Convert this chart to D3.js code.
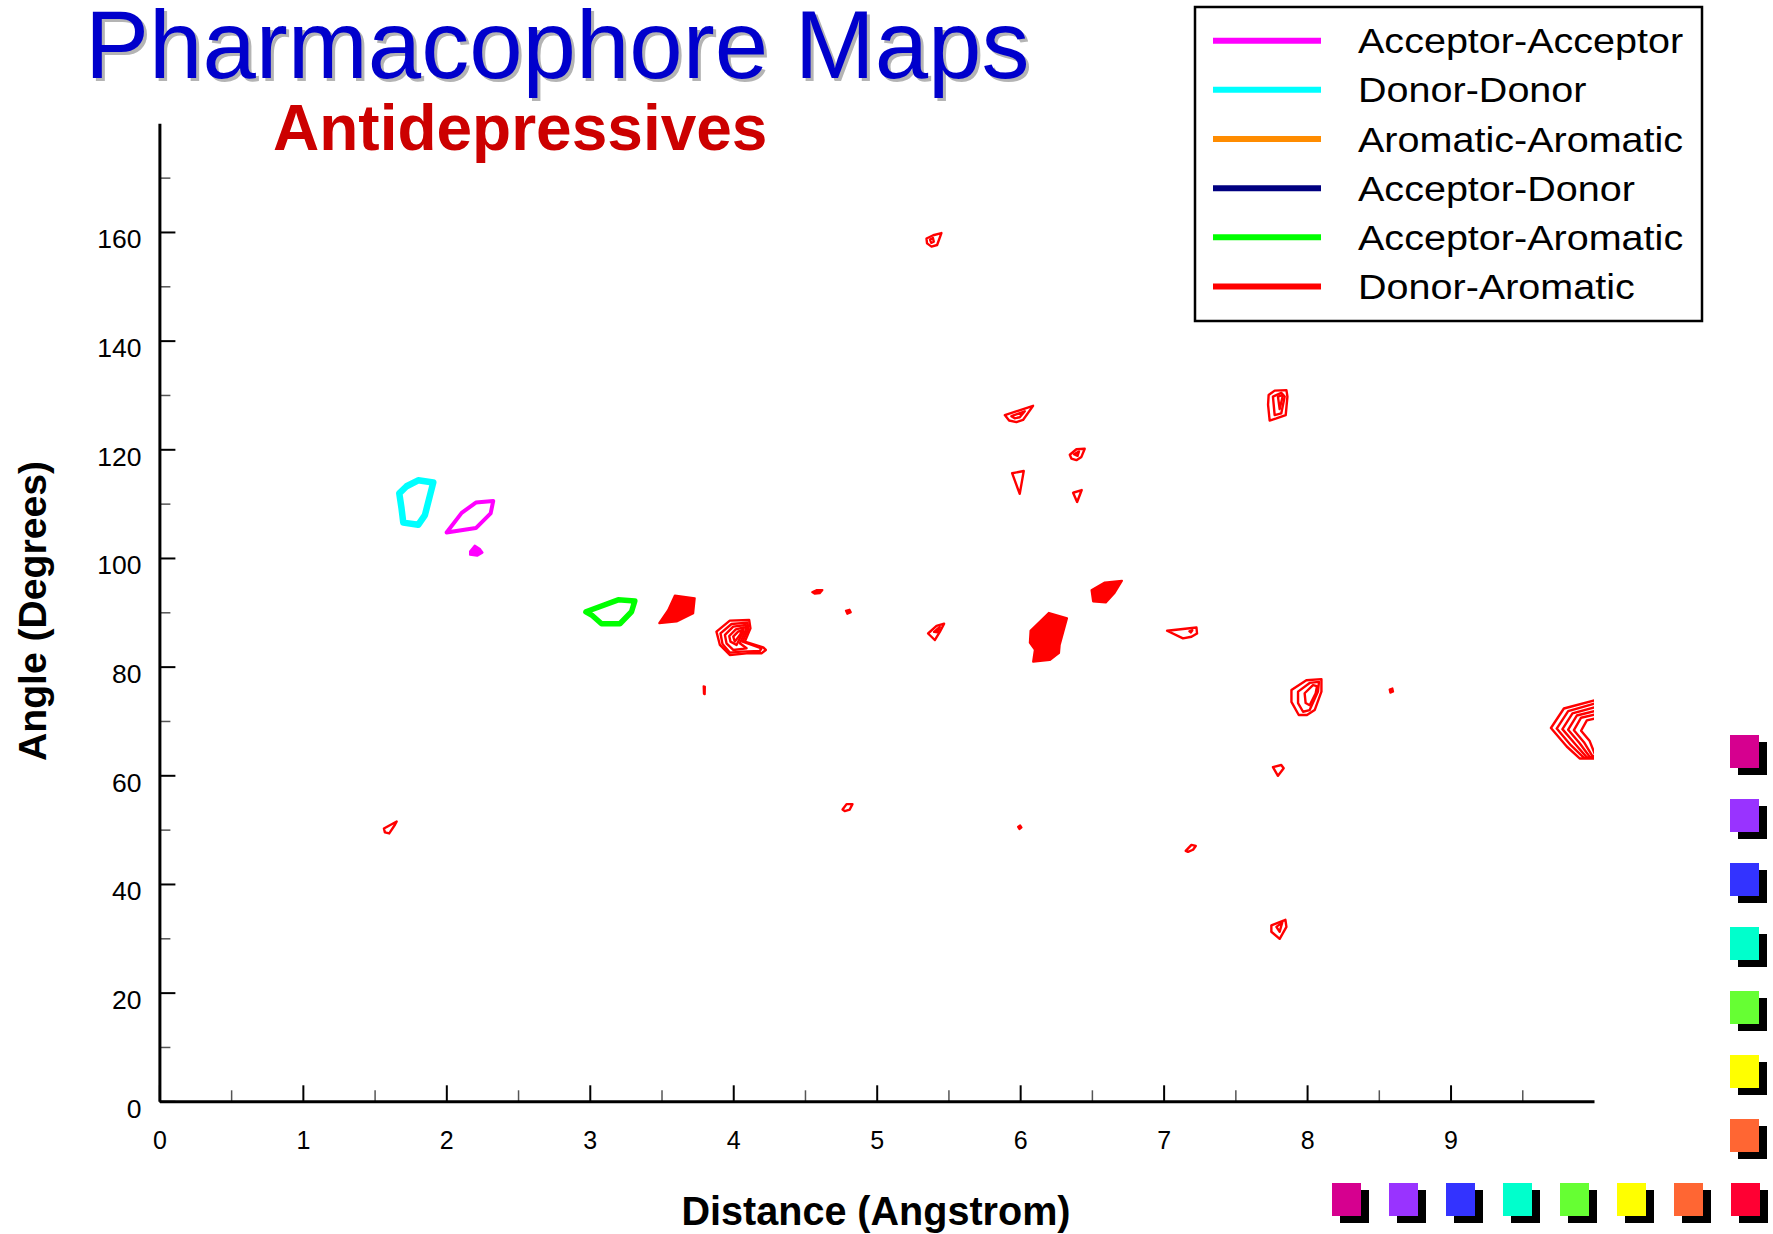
<!DOCTYPE html>
<html>
<head>
<meta charset="utf-8">
<script src="https://cdn.jsdelivr.net/npm/d3@7"></script>
<style>
  html, body { margin: 0; padding: 0; background: #fff; }
  svg { display: block; font-family: "Liberation Sans", Arial, sans-serif; }
</style>
</head>
<body>
<svg id="chart" width="1773" height="1234"></svg>
<script>
// ---- Pair types shown in the legend ----
const pairTypes = ["Acceptor-Acceptor", "Donor-Donor", "Aromatic-Aromatic",
                   "Acceptor-Donor", "Acceptor-Aromatic", "Donor-Aromatic"];

// ---- Axis ticks ----
const distanceTicks = [0, 1, 2, 3, 4, 5, 6, 7, 8, 9];
const distanceMinorTicks = [0.5, 1.5, 2.5, 3.5, 4.5, 5.5, 6.5, 7.5, 8.5, 9.5];
const angleTicks = [0, 20, 40, 60, 80, 100, 120, 140, 160];
const angleMinorTicks = [10, 30, 50, 70, 90, 110, 130, 150, 170];

// ---- Contour rings, [distance (Å), angle (deg)] ----
const acceptorAcceptorRings = [
  [[2.327, 110.5], [2.309, 108.2], [2.206, 105.5], [2.002, 104.7], [2.107, 108.3], [2.206, 110.2]]
];
const acceptorAcceptorCores = [
  [[2.165, 101.2], [2.199, 102.3], [2.234, 101.7], [2.253, 101.0], [2.215, 100.4], [2.165, 100.6]]
];
const donorDonorRings = [
  [[1.804, 114.3], [1.909, 113.9], [1.851, 107.9], [1.804, 106.1], [1.700, 106.5], [1.688, 109.1], [1.672, 111.9], [1.723, 113.2]]
];
const aromaticAromaticRings = [];
const acceptorDonorRings = [];
const acceptorAromaticRings = [
  [[2.973, 90.1], [3.198, 92.3], [3.314, 92.1], [3.291, 90.1], [3.210, 87.9], [3.082, 87.9], [3.013, 89.5]]
];
const donorAromaticRings = [
  // 5.4 Å / 158°
  [[5.347, 158.8], [5.394, 159.4], [5.451, 159.8], [5.421, 157.6], [5.382, 157.3], [5.351, 157.9]],
  [[5.372, 158.6], [5.392, 158.9], [5.398, 158.2], [5.380, 158.0]],
  // 6.0 Å / 126°
  [[5.893, 126.3], [6.090, 128.0], [6.020, 125.4], [5.974, 125.0], [5.923, 125.3]],
  [[5.939, 126.1], [6.032, 127.0], [5.997, 125.9], [5.962, 125.7]],
  // 7.8 Å / 128°
  [[7.732, 130.0], [7.774, 130.8], [7.856, 130.9], [7.863, 129.7], [7.851, 126.3], [7.786, 125.7], [7.739, 125.3], [7.728, 128.2]],
  [[7.762, 129.7], [7.820, 130.4], [7.844, 129.7], [7.820, 126.6], [7.774, 126.3]],
  [[7.797, 129.7], [7.832, 130.0], [7.809, 127.4]],
  // 6.4 Å / 119°
  [[6.346, 119.0], [6.392, 120.0], [6.450, 120.1], [6.427, 118.6], [6.392, 118.0], [6.357, 118.3]],
  [[6.375, 119.1], [6.410, 119.6], [6.400, 118.8]],
  // 6.0 Å / 114°
  [[5.944, 115.6], [6.025, 116.0], [5.997, 111.8]],
  // 6.4 Å / 111°
  [[6.369, 112.0], [6.429, 112.5], [6.397, 110.3]],
  // 4.05 Å / 85°
  [[3.883, 86.44], [3.976, 88.46], [4.111, 88.59], [4.120, 87.05], [4.081, 84.60], [4.209, 83.56], [4.227, 83.07], [4.197, 82.45], [4.093, 82.45], [3.976, 82.15], [3.907, 83.99]],
  [[3.911, 86.13], [3.988, 87.85], [4.100, 88.10], [4.104, 86.87], [4.065, 84.60], [4.197, 83.37], [4.185, 82.88], [4.058, 82.76], [3.976, 82.58], [3.925, 84.17]],
  [[3.942, 85.83], [4.000, 87.36], [4.088, 87.67], [4.088, 86.75], [4.046, 84.29], [4.093, 83.37], [4.000, 83.07], [3.953, 84.29]],
  [[3.972, 85.64], [4.018, 86.87], [4.074, 87.24], [4.069, 86.44], [4.023, 83.99], [3.981, 84.60]],
  [[4.000, 85.52], [4.034, 86.44], [4.065, 86.75], [4.046, 85.83], [4.011, 84.60]],
  // 5.4 Å / 87°
  [[5.358, 86.1], [5.417, 87.5], [5.470, 87.9], [5.440, 86.4], [5.405, 84.9]],
  [[5.400, 86.4], [5.440, 87.3], [5.425, 86.3]],
  // 7.1 Å / 86°
  [[7.024, 86.6], [7.229, 87.2], [7.233, 86.1], [7.194, 85.5], [7.135, 85.2]],
  [[7.180, 86.5], [7.200, 86.7], [7.190, 86.3]],
  // 8.0 Å / 75°
  [[7.891, 75.7], [7.995, 77.5], [8.100, 77.7], [8.100, 75.4], [8.053, 72.0], [7.999, 71.1], [7.942, 71.1], [7.891, 73.5]],
  [[7.937, 75.4], [8.018, 77.0], [8.083, 77.2], [8.076, 75.4], [8.018, 72.0], [7.972, 71.7], [7.937, 73.3]],
  [[7.983, 75.1], [8.041, 76.6], [8.069, 76.4], [8.060, 75.1], [8.018, 72.9], [7.990, 73.3]],
  // 9.9 Å / 68° (runs past the 10 Å edge)
  [[9.70, 68.7], [9.79, 72.3], [10.06, 74.2], [10.06, 63.1], [9.90, 63.1], [9.81, 65.3]],
  [[9.74, 68.6], [9.82, 71.8], [10.06, 73.6], [10.06, 63.2], [9.93, 63.2], [9.84, 65.5]],
  [[9.78, 68.5], [9.85, 71.4], [10.06, 72.9], [10.06, 63.3], [9.95, 63.3], [9.87, 65.7]],
  [[9.82, 68.4], [9.88, 71.0], [10.06, 72.2], [10.06, 63.4], [9.97, 63.4], [9.90, 65.9]],
  [[9.86, 68.3], [9.91, 70.6], [10.06, 71.5], [10.06, 63.5], [9.99, 63.5], [9.93, 66.1]],
  [[9.91, 68.2], [9.95, 70.1], [10.06, 70.8], [10.06, 63.6], [10.01, 63.6], [9.97, 66.3]],
  // 7.8 Å / 61°
  [[7.762, 61.5], [7.820, 61.9], [7.837, 61.3], [7.797, 59.9]],
  // 1.6 Å / 50°
  [[1.565, 50.2], [1.654, 51.5], [1.642, 50.9], [1.602, 49.3], [1.572, 49.5]],
  // 4.8 Å / 54°
  [[4.762, 53.7], [4.790, 54.7], [4.831, 54.7], [4.812, 53.7], [4.777, 53.4]],
  // 7.2 Å / 46.6°
  [[7.154, 46.1], [7.194, 47.2], [7.224, 47.0], [7.205, 46.3], [7.170, 45.9]],
  // 7.8 Å / 32°
  [[7.751, 32.4], [7.849, 33.4], [7.856, 32.1], [7.809, 29.9], [7.751, 31.2]],
  [[7.786, 32.1], [7.827, 32.9], [7.809, 31.2]]
];
// dense cores where the contour levels merge
const donorAromaticCores = [
  [[3.593, 93.1], [3.732, 92.6], [3.721, 89.8], [3.605, 88.3], [3.484, 88.0], [3.546, 90.4]],
  [[6.072, 86.6], [6.201, 89.9], [6.327, 88.9], [6.276, 84.0], [6.271, 82.5], [6.206, 81.2], [6.090, 80.9], [6.102, 83.1], [6.067, 84.4]],
  [[6.497, 94.1], [6.590, 95.5], [6.710, 95.8], [6.659, 93.6], [6.597, 91.8], [6.508, 92.0]],
  [[4.550, 93.7], [4.580, 94.1], [4.622, 94.1], [4.603, 93.5], [4.569, 93.4]],
  [[4.785, 90.3], [4.810, 90.5], [4.820, 90.0], [4.795, 89.7]],
  [[3.793, 76.4], [3.803, 76.3], [3.802, 74.9], [3.795, 75.0]],
  [[8.575, 75.8], [8.595, 76.0], [8.600, 75.4], [8.580, 75.2]],
  [[5.985, 50.5], [6.000, 50.8], [6.010, 50.4], [5.995, 50.1]]
];

// ---- Colour key swatches ----
const sideSwatches = ["#d6008f", "#9933ff", "#3333ff", "#00ffcc", "#66ff33", "#ffff00", "#ff6633"];
const bottomSwatches = ["#d6008f", "#9933ff", "#3333ff", "#00ffcc", "#66ff33", "#ffff00", "#ff6633", "#ff0033"];

// ---- Build series ----
const palette = ["#ff00ff", "#00ffff", "#ff8c00", "#000080", "#00ff00", "#ff0000"];
const lineWidths = [4, 6.5, 4, 4, 5.5, 2.4];
const seriesRings = [acceptorAcceptorRings, donorDonorRings, aromaticAromaticRings,
                     acceptorDonorRings, acceptorAromaticRings, donorAromaticRings];
const seriesCores = [acceptorAcceptorCores, [], [], [], [], donorAromaticCores];
const series = pairTypes.map((name, i) => ({
  name, color: palette[i], width: lineWidths[i], rings: seriesRings[i], cores: seriesCores[i]
}));

// ---- Layout ----
const svg = d3.select("#chart");
const plot = { left: 159.4, right: 1594, top: 123.3, bottom: 1101.3 };
const x = d3.scaleLinear().domain([0, 10]).range([plot.left, plot.right]);
const y = d3.scaleLinear().domain([0, 180]).range([plot.bottom, plot.top]);

// Titles
const titleFont = "'Liberation Sans', Arial, sans-serif";
svg.append("text").attr("x", 88).attr("y", 81)
  .attr("font-size", 96).attr("fill", "#b4b4b4").text("Pharmacophore Maps");
svg.append("text").attr("x", 85).attr("y", 78)
  .attr("font-size", 96).attr("fill", "#0000cc").text("Pharmacophore Maps");
svg.append("text").attr("x", 273).attr("y", 150)
  .attr("font-size", 64).attr("font-weight", "bold").attr("fill", "#cc0000").text("Antidepressives");

// Clip for contours
svg.append("defs").append("clipPath").attr("id", "plotClip")
  .append("rect").attr("x", plot.left).attr("y", plot.top)
  .attr("width", plot.right - plot.left).attr("height", plot.bottom - plot.top);

const ringPath = d3.line().x(p => x(p[0])).y(p => y(p[1])).curve(d3.curveLinearClosed);
const contourLayer = svg.append("g").attr("clip-path", "url(#plotClip)");
series.forEach(s => {
  const g = contourLayer.append("g");
  g.selectAll("path.core").data(s.cores).join("path").attr("class", "core")
    .attr("d", ringPath).attr("fill", s.color).attr("stroke", s.color)
    .attr("stroke-width", 2).attr("stroke-linejoin", "round");
  g.selectAll("path.ring").data(s.rings).join("path").attr("class", "ring")
    .attr("d", ringPath).attr("fill", "none").attr("stroke", s.color)
    .attr("stroke-width", s.width).attr("stroke-linejoin", "round");
});

// Axes
function styleAxis(g, major) {
  g.select(".domain").attr("stroke", "#000").attr("stroke-width", 3);
  g.selectAll(".tick line").attr("stroke", major ? "#000" : "#555").attr("stroke-width", major ? 2 : 1.5);
  g.selectAll(".tick text").attr("font-size", 25).attr("fill", "#000")
    .attr("font-family", titleFont);
}
const xMinor = svg.append("g").attr("transform", `translate(0,${plot.bottom})`)
  .call(d3.axisBottom(x).tickValues(distanceMinorTicks).tickSize(-11).tickSizeOuter(0).tickFormat(""));
xMinor.select(".domain").remove();
styleAxis(xMinor, false);
const yMinor = svg.append("g").attr("transform", `translate(${plot.left},0)`)
  .call(d3.axisLeft(y).tickValues(angleMinorTicks).tickSize(-11).tickSizeOuter(0).tickFormat(""));
yMinor.select(".domain").remove();
styleAxis(yMinor, false);

const xAxis = svg.append("g").attr("transform", `translate(0,${plot.bottom})`)
  .call(d3.axisBottom(x).tickValues(distanceTicks).tickSize(-16).tickSizeOuter(0).tickPadding(30).tickFormat(d3.format("d")));
styleAxis(xAxis, true);
const yAxis = svg.append("g").attr("transform", `translate(${plot.left},0)`)
  .call(d3.axisLeft(y).tickValues(angleTicks).tickSize(-16).tickSizeOuter(0).tickPadding(18).tickFormat(d3.format("d")));
styleAxis(yAxis, true);
yAxis.selectAll(".tick text").attr("font-size", 26.5).attr("dy", "0.6em");

// Axis titles
svg.append("text").attr("transform", "translate(46,611) rotate(-90)")
  .attr("text-anchor", "middle").attr("font-size", 38).attr("font-weight", "bold")
  .attr("textLength", 300).attr("lengthAdjust", "spacingAndGlyphs").text("Angle (Degrees)");
svg.append("text").attr("x", 876).attr("y", 1225)
  .attr("text-anchor", "middle").attr("font-size", 40).attr("font-weight", "bold")
  .attr("textLength", 389).attr("lengthAdjust", "spacingAndGlyphs").text("Distance (Angstrom)");

// Legend
const legend = svg.append("g");
legend.append("rect").attr("x", 1195).attr("y", 7).attr("width", 507).attr("height", 314)
  .attr("fill", "#fff").attr("stroke", "#000").attr("stroke-width", 2.5);
const rowY = d3.scalePoint().domain(pairTypes).range([40.7, 286.5]);
const rows = legend.selectAll("g.row").data(series).join("g").attr("class", "row")
  .attr("transform", d => `translate(0,${rowY(d.name)})`);
rows.append("line").attr("x1", 1213).attr("x2", 1321)
  .attr("stroke", d => d.color).attr("stroke-width", 6);
rows.append("text").attr("transform", "translate(1358,12.5) scale(1.13,1)")
  .attr("font-size", 35).attr("fill", "#000").text(d => d.name);

// Colour key swatches with drop shadows
const sw = { w: 29, h: 33, dx: 8, dy: 7 };
const sideY = d3.scaleLinear().domain([0, 1]).range([735, 799]);
const bottomX = d3.scaleLinear().domain([0, 1]).range([1332, 1389]);
function drawSwatch(sel) {
  sel.append("rect").attr("x", sw.dx).attr("y", sw.dy).attr("width", sw.w).attr("height", sw.h).attr("fill", "#000");
  sel.append("rect").attr("width", sw.w).attr("height", sw.h).attr("fill", d => d);
}
svg.selectAll("g.side").data(sideSwatches).join("g").attr("class", "side")
  .attr("transform", (d, i) => `translate(1730,${sideY(i)})`).call(drawSwatch);
svg.selectAll("g.bottom").data(bottomSwatches).join("g").attr("class", "bottom")
  .attr("transform", (d, i) => `translate(${bottomX(i)},1183)`).call(drawSwatch);
</script>
</body>
</html>
